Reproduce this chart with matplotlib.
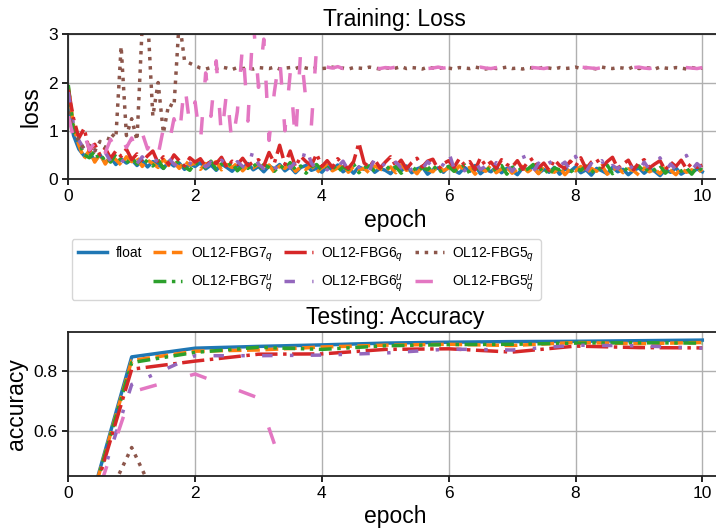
import numpy as np
import matplotlib
matplotlib.use("Agg")
import matplotlib.pyplot as plt
from matplotlib.lines import Line2D

plt.rcParams["font.family"] = ["Liberation Sans", "DejaVu Sans"]
plt.rcParams["mathtext.fontset"] = "custom"
plt.rcParams["mathtext.rm"] = "Liberation Sans"
plt.rcParams["mathtext.it"] = "Liberation Sans:italic"

# ---------------- data ----------------
series_labels = [
    "float",
    "OL12-FBG7$_q$",
    "OL12-FBG7$_q^u$",
    "OL12-FBG6$_q$",
    "OL12-FBG6$_q^u$",
    "OL12-FBG5$_q$",
    "OL12-FBG5$_q^u$",
]

steps_per_epoch = 12
loss_epoch = np.arange(121) / steps_per_epoch

loss_float = [
    1.50, 0.90, 0.62, 0.48, 0.55, 0.38, 0.50, 0.34, 0.45, 0.30, 0.42, 0.33, 0.40,
    0.28, 0.38, 0.25, 0.36, 0.30, 0.22, 0.35, 0.27, 0.33, 0.20, 0.31, 0.26,
    0.34, 0.21, 0.29, 0.18, 0.31, 0.24, 0.16, 0.28, 0.22, 0.32, 0.19, 0.26,
    0.15, 0.27, 0.21, 0.30, 0.17, 0.25, 0.13, 0.24, 0.28, 0.18, 0.22, 0.14,
    0.26, 0.19, 0.29, 0.15, 0.23, 0.12, 0.25, 0.20, 0.27, 0.14, 0.22, 0.18,
    0.11, 0.24, 0.17, 0.27, 0.13, 0.21, 0.25, 0.10, 0.19, 0.23, 0.14, 0.26,
    0.18, 0.12, 0.24, 0.16, 0.28, 0.11, 0.20, 0.15, 0.25, 0.13, 0.22, 0.17,
    0.09, 0.23, 0.18, 0.26, 0.12, 0.20, 0.14, 0.24, 0.10, 0.21, 0.16, 0.25,
    0.13, 0.19, 0.08, 0.22, 0.17, 0.11, 0.24, 0.15, 0.20, 0.09, 0.18, 0.23,
    0.12, 0.21, 0.16, 0.07, 0.19, 0.14, 0.23, 0.10, 0.17, 0.13, 0.21, 0.15,
]
loss_fbg7 = [
    1.90, 1.10, 0.70, 0.42, 0.60, 0.35, 0.52, 0.31, 0.48, 0.40, 0.29, 0.46, 0.36,
    0.44, 0.26, 0.39, 0.32, 0.24, 0.41, 0.28, 0.35, 0.22, 0.37, 0.29, 0.33,
    0.20, 0.32, 0.27, 0.36, 0.19, 0.30, 0.24, 0.33, 0.17, 0.28, 0.23, 0.31,
    0.18, 0.29, 0.14, 0.27, 0.22, 0.33, 0.16, 0.25, 0.20, 0.29, 0.13, 0.24,
    0.28, 0.17, 0.23, 0.31, 0.14, 0.26, 0.19, 0.22, 0.12, 0.27, 0.21, 0.16,
    0.25, 0.13, 0.29, 0.18, 0.22, 0.11, 0.26, 0.20, 0.15, 0.28, 0.17, 0.23,
    0.14, 0.27, 0.19, 0.24, 0.10, 0.22, 0.16, 0.29, 0.13, 0.21, 0.25, 0.12,
    0.20, 0.26, 0.15, 0.23, 0.11, 0.27, 0.18, 0.14, 0.24, 0.09, 0.21, 0.17,
    0.26, 0.12, 0.22, 0.16, 0.28, 0.10, 0.19, 0.24, 0.13, 0.21, 0.17, 0.08,
    0.23, 0.15, 0.20, 0.11, 0.25, 0.18, 0.09, 0.22, 0.14, 0.19, 0.12, 0.20,
]
loss_fbg7u = [
    1.95, 1.00, 0.78, 0.50, 0.44, 0.58, 0.38, 0.47, 0.35, 0.52, 0.39, 0.33, 0.45,
    0.31, 0.43, 0.35, 0.27, 0.40, 0.22, 0.36, 0.30, 0.38, 0.25, 0.18, 0.34,
    0.29, 0.23, 0.37, 0.20, 0.31, 0.26, 0.34, 0.17, 0.28, 0.22, 0.33, 0.19,
    0.30, 0.24, 0.16, 0.28, 0.21, 0.34, 0.19, 0.27, 0.12, 0.25, 0.30, 0.18,
    0.22, 0.29, 0.15, 0.25, 0.20, 0.31, 0.13, 0.24, 0.27, 0.16, 0.23, 0.29,
    0.18, 0.26, 0.12, 0.22, 0.28, 0.15, 0.24, 0.19, 0.30, 0.13, 0.21, 0.26,
    0.16, 0.23, 0.29, 0.11, 0.25, 0.19, 0.27, 0.14, 0.22, 0.28, 0.10, 0.24,
    0.27, 0.15, 0.21, 0.30, 0.17, 0.25, 0.08, 0.23, 0.19, 0.28, 0.14, 0.22,
    0.18, 0.27, 0.13, 0.24, 0.20, 0.29, 0.11, 0.22, 0.26, 0.15, 0.23, 0.27,
    0.14, 0.24, 0.19, 0.28, 0.12, 0.22, 0.26, 0.16, 0.23, 0.10, 0.25, 0.18,
]
loss_fbg6 = [
    1.85, 1.25, 0.85, 1.05, 0.58, 0.72, 0.50, 0.64, 0.43, 0.58, 0.47, 0.62, 0.40,
    0.52, 0.36, 0.48, 0.58, 0.33, 0.46, 0.30, 0.50, 0.38, 0.27, 0.44, 0.35,
    0.42, 0.26, 0.39, 0.32, 0.45, 0.24, 0.37, 0.30, 0.43, 0.28, 0.35, 0.40,
    0.27, 0.55, 0.33, 0.70, 0.30, 0.58, 0.25, 0.47, 0.36, 0.28, 0.52, 0.26,
    0.38, 0.24, 0.42, 0.30, 0.22, 0.36, 0.75, 0.33, 0.25, 0.40, 0.23, 0.35,
    0.46, 0.27, 0.39, 0.21, 0.34, 0.43, 0.25, 0.37, 0.41, 0.20, 0.32, 0.38,
    0.24, 0.42, 0.29, 0.36, 0.19, 0.44, 0.27, 0.35, 0.22, 0.40, 0.30, 0.25,
    0.38, 0.20, 0.36, 0.43, 0.23, 0.33, 0.18, 0.40, 0.28, 0.22, 0.37, 0.26,
    0.44, 0.21, 0.35, 0.41, 0.24, 0.36, 0.45, 0.22, 0.31, 0.39, 0.19, 0.34,
    0.40, 0.23, 0.31, 0.38, 0.18, 0.35, 0.26, 0.39, 0.21, 0.33, 0.24, 0.29,
]
loss_fbg6u = [
    1.80, 1.10, 0.80, 0.62, 0.46, 0.60, 0.40, 0.55, 0.37, 0.49, 0.34, 0.47, 0.42,
    0.32, 0.46, 0.30, 0.42, 0.36, 0.27, 0.43, 0.31, 0.24, 0.40, 0.33, 0.26,
    0.38, 0.25, 0.35, 0.21, 0.39, 0.29, 0.23, 0.36, 0.26, 0.20, 0.62, 0.30,
    0.22, 0.36, 0.20, 0.31, 0.40, 0.23, 0.35, 0.26, 0.66, 0.33, 0.21, 0.32,
    0.19, 0.34, 0.25, 0.37, 0.18, 0.31, 0.24, 0.36, 0.17, 0.43, 0.22, 0.33,
    0.18, 0.35, 0.23, 0.39, 0.16, 0.29, 0.21, 0.36, 0.25, 0.15, 0.31, 0.56,
    0.22, 0.33, 0.17, 0.28, 0.37, 0.19, 0.27, 0.14, 0.34, 0.21, 0.30, 0.16,
    0.29, 0.52, 0.24, 0.15, 0.33, 0.20, 0.38, 0.17, 0.27, 0.35, 0.18, 0.47,
    0.23, 0.15, 0.32, 0.19, 0.38, 0.14, 0.28, 0.21, 0.34, 0.17, 0.30, 0.16,
    0.35, 0.19, 0.27, 0.44, 0.16, 0.31, 0.20, 0.36, 0.49, 0.18, 0.32, 0.22,
]
loss_fbg5 = [
    1.40, 0.95, 0.80, 0.62, 0.70, 0.58, 0.78, 0.65, 0.95, 0.85, 2.75, 0.90, 1.25,
    0.80, 3.20, 3.40, 1.30, 2.00, 0.95, 1.55, 1.50, 3.30, 2.45, 2.40, 2.35,
    2.30, 2.28, 2.31, 2.29, 2.32, 2.30, 2.27, 2.31, 2.29, 2.30, 2.28, 2.31,
    2.30, 2.29, 2.32, 2.28, 2.30, 2.31, 2.29, 2.33, 2.30, 2.28, 2.31, 2.29,
    2.30, 2.32, 2.29, 2.30, 2.28, 2.31, 2.30, 2.29, 2.32, 2.30, 2.28, 2.31,
    2.29, 2.30, 2.33, 2.29, 2.31, 2.30, 2.28, 2.32, 2.30, 2.29, 2.31, 2.30,
    2.28, 2.31, 2.30, 2.29, 2.32, 2.30, 2.28, 2.31, 2.29, 2.30, 2.32, 2.29,
    2.30, 2.28, 2.31, 2.30, 2.29, 2.32, 2.30, 2.28, 2.31, 2.29, 2.30, 2.32,
    2.29, 2.31, 2.30, 2.28, 2.32, 2.30, 2.29, 2.31, 2.30, 2.28, 2.33, 2.29,
    2.31, 2.30, 2.28, 2.32, 2.30, 2.29, 2.31, 2.30, 2.28, 2.31, 2.29, 2.30,
]
loss_fbg5u = [
    1.30, 0.85, 0.70, 0.95, 0.60, 0.75, 0.98, 0.55, 0.82, 0.60, 0.90, 0.65, 0.85,
    0.55, 0.95, 0.62, 0.88, 0.50, 1.05, 0.70, 1.25, 0.85, 2.00, 1.10, 1.60,
    0.75, 2.20, 1.30, 2.45, 0.85, 1.85, 0.70, 1.40, 2.80, 1.20, 3.30, 1.90,
    2.90, 0.80, 1.80, 2.55, 1.00, 2.20, 0.75, 2.70, 1.60, 1.10, 2.75, 2.35,
    2.32, 2.30, 2.33, 2.29, 2.31, 2.30, 2.28, 2.31, 2.32, 2.30, 2.29, 2.31,
    2.30, 2.32, 2.29, 2.31, 2.30, 2.34, 2.31, 2.29, 2.30, 2.32, 2.30, 2.31,
    2.33, 2.30, 2.29, 2.31, 2.30, 2.32, 2.30, 2.29, 2.31, 2.33, 2.30, 2.31,
    2.29, 2.30, 2.32, 2.31, 2.30, 2.29, 2.31, 2.33, 2.30, 2.31, 2.29, 2.30,
    2.32, 2.31, 2.30, 2.29, 2.31, 2.30, 2.32, 2.31, 2.30, 2.29, 2.31, 2.32,
    2.30, 2.29, 2.31, 2.30, 2.32, 2.31, 2.29, 2.30, 2.31, 2.30, 2.29, 2.31,
]

acc_epoch = np.arange(11)
acc_float = [0.10, 0.847, 0.876, 0.882, 0.887, 0.893, 0.896, 0.898, 0.899, 0.901, 0.903]
acc_fbg7 = [0.10, 0.835, 0.866, 0.870, 0.880, 0.886, 0.889, 0.885, 0.895, 0.891, 0.895]
acc_fbg7u = [0.10, 0.828, 0.862, 0.879, 0.872, 0.884, 0.888, 0.889, 0.893, 0.894, 0.893]
acc_fbg6 = [0.10, 0.806, 0.833, 0.856, 0.857, 0.872, 0.874, 0.863, 0.883, 0.878, 0.877]
acc_fbg6u = [0.10, 0.755, 0.851, 0.851, 0.853, 0.860, 0.873, 0.870, 0.886, 0.884, 0.876]
acc_fbg5 = [0.10, 0.545, 0.10, 0.10, 0.10, 0.10, 0.10, 0.10, 0.10, 0.10, 0.10]
acc_fbg5u = [0.10, 0.730, 0.790, 0.710, 0.10, 0.10, 0.10, 0.10, 0.10, 0.10, 0.10]

loss_series = [loss_float, loss_fbg7, loss_fbg7u, loss_fbg6, loss_fbg6u, loss_fbg5, loss_fbg5u]
acc_series = [acc_float, acc_fbg7, acc_fbg7u, acc_fbg6, acc_fbg6u, acc_fbg5, acc_fbg5u]

# ---------------- styles ----------------
colors = ["#1f77b4", "#ff7f0e", "#2ca02c", "#d62728", "#9467bd", "#8c564b", "#e377c2"]
styles = [
    "-",
    "--",
    (0, (3.7, 1.6, 1, 1.6, 1, 1.6)),
    "-.",
    (0, (3, 5, 1, 5)),
    ":",
    (0, (5, 10)),
]
LW = 2.5

fig = plt.figure(figsize=(7.16, 5.31), dpi=100)
W, H = 716.0, 531.0
x0 = 68.3
px_per_epoch = 63.4
xmax = 10.3
ax_w = xmax * px_per_epoch / W
ax1 = fig.add_axes([x0 / W, 1 - 179.0 / H, ax_w, (179.0 - 34.3) / H])
ax2 = fig.add_axes([x0 / W, 1 - 475.7 / H, ax_w, (475.7 - 332.3) / H])

for ys, c, ls in zip(loss_series, colors, styles):
    ax1.plot(loss_epoch, ys, color=c, linestyle=ls, lw=LW)
for ys, c, ls in zip(acc_series, colors, styles):
    ax2.plot(acc_epoch, ys, color=c, linestyle=ls, lw=LW)

TICK_FS = 12.5
LABEL_FS = 16.5
for ax in (ax1, ax2):
    ax.set_xlim(0, xmax)
    ax.set_xticks([0, 2, 4, 6, 8, 10])
    ax.grid(True, color="#b0b0b0", lw=1.0)
    ax.set_axisbelow(True)
    ax.tick_params(labelsize=TICK_FS, width=1.2, length=4)
    for sp in ax.spines.values():
        sp.set_linewidth(1.3)
        sp.set_color("#222222")
    ax.set_xlabel("epoch", fontsize=LABEL_FS, labelpad=3)

ax1.set_ylim(0, 3)
ax1.set_yticks([0, 1, 2, 3])
ax1.set_ylabel("loss", fontsize=LABEL_FS)
ax1.set_title("Training: Loss", fontsize=LABEL_FS)

ax2.set_ylim(0.451, 0.929)
ax2.set_yticks([0.6, 0.8])
ax2.set_ylabel("accuracy", fontsize=LABEL_FS)
ax2.set_title("Testing: Accuracy", fontsize=LABEL_FS)

# legend: first column holds only the float entry
handles = [Line2D([], [], color=c, linestyle=ls, lw=LW) for c, ls in zip(colors, styles)]
blank = Line2D([], [], color="none")
leg_handles = [handles[0], blank, handles[1], handles[2], handles[3], handles[4], handles[5], handles[6]]
leg_labels = [series_labels[0], " ", series_labels[1], series_labels[2],
              series_labels[3], series_labels[4], series_labels[5], series_labels[6]]
fig.legend(leg_handles, leg_labels, ncol=4, loc="upper left",
           bbox_to_anchor=(71.7 / W, 1 - 239.0 / H), fontsize=10,
           handlelength=2.1, columnspacing=0.8, handletextpad=0.6,
           borderaxespad=0, borderpad=0.45, labelspacing=0.6)

fig.savefig("out.png", dpi=100)
